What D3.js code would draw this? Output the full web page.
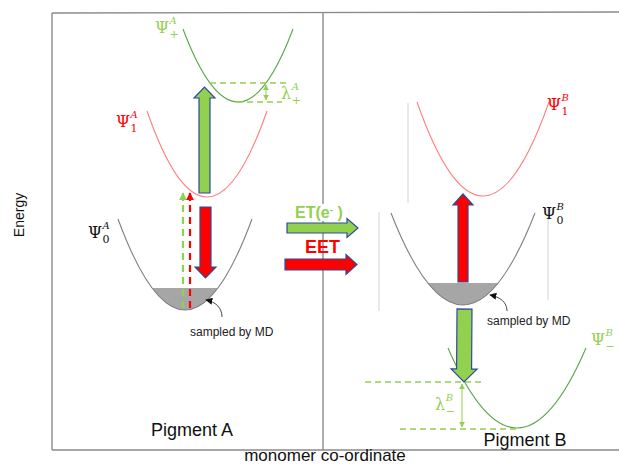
<!DOCTYPE html>
<html>
<head>
<meta charset="utf-8">
<script src="https://cdn.jsdelivr.net/npm/d3@7"></script>
<style>
  html, body { margin: 0; padding: 0; background: #fff; }
  svg { display: block; }
</style>
</head>
<body>
<svg id="chart" width="619" height="465"></svg>
<script>
// ---- Potential energy surfaces (monomer coordinate x, energy e) ----
const curveNames   = ["PsiPlusA", "Psi1A", "Psi0A", "Psi1B", "Psi0B", "PsiMinusB"];
const curveCentre  = [186, 155, 133, 431, 411, 465];   // x of the minimum
const curveMinE    = [348, 253, 140, 254, 145, 22];    // energy at the minimum
const curveHalfW   = [55, 60, 67, 66, 72, 69];         // half width at the top of the drawn arm
const curveTopE    = [421, 339, 231, 348, 237, 102];   // energy at the end of each arm
const curveColour  = ["#5aa54a", "#ff7f7f", "#808080", "#ff7f7f", "#808080", "#5aa54a"];

// thermally populated region sampled by MD (filled below this energy)
const sampledCurve = ["Psi0A", "Psi0B"];
const sampledTopE  = [162, 167];

// ---- Transitions (block arrows) ----
const arrowIds   = ["absA", "emA", "ET", "EET", "absB", "ctB"];
const arrowX1    = [152.5, 153.5, 235, 233, 411, 412.5];
const arrowE1    = [257, 243, 222, 185.5, 168, 141];
const arrowX2    = [152.5, 153.5, 306, 305, 411, 412];
const arrowE2    = [363, 172, 222, 185.5, 256, 68];
const arrowFill  = ["#92d050", "#ff0000", "#92d050", "#ff0000", "#ff0000", "#92d050"];

// ---- Vertical excitation energies (dashed arrows) ----
const dashX    = [131, 138];
const dashE1   = [142, 142];
const dashE2   = [257, 257];
const dashCol  = ["#92d050", "#ff0000"];

// ---- Reorganisation energies λ ----
const lamNames = ["lambdaPlusA", "lambdaMinusB"];
const lamUpperE  = [367, 68];
const lamUpperX1 = [158, 313];
const lamUpperX2 = [235, 433];
const lamLowerE  = [348, 21];
const lamLowerX1 = [185, 348];
const lamLowerX2 = [230, 465];
const lamArrowX  = [214, 410];

// ---- faint guide lines ----
const guideX  = [356, 327, 496];
const guideE1 = [347, 238, 240];
const guideE2 = [247, 139, 150];

const svg = d3.select("#chart");
const W = 619, H = 465;
const x = d3.scaleLinear().domain([0, 567]).range([52, 619]);
const y = d3.scaleLinear().domain([0, 438]).range([450, 12]);

svg.append("rect").attr("width", W).attr("height", H).attr("fill", "#fff");

const defs = svg.append("defs");
function headMarker(id, col, size) {
  defs.append("marker")
    .attr("id", id).attr("viewBox", "0 0 10 10")
    .attr("refX", 9).attr("refY", 5)
    .attr("markerWidth", size).attr("markerHeight", size)
    .attr("markerUnits", "userSpaceOnUse")
    .attr("orient", "auto-start-reverse")
    .append("path").attr("d", "M0,0 L10,5 L0,10 Z").attr("fill", col);
}
headMarker("hGreen", "#92d050", 8);
headMarker("hRed", "#ff0000", 8);
headMarker("hLam", "#92d050", 6);
headMarker("hBlack", "#111", 7);

// ---- frame ----
const frame = svg.append("g").attr("stroke", "#8a8a8a").attr("stroke-width", 1.4).attr("fill", "none");
frame.append("line").attr("x1", x(0)).attr("y1", y(437)).attr("x2", x(0)).attr("y2", y(0));
frame.append("line").attr("x1", x(0)).attr("y1", y(437)).attr("x2", x(567)).attr("y2", y(438));
frame.append("line").attr("x1", x(0)).attr("y1", y(0)).attr("x2", x(567)).attr("y2", y(0));
frame.append("line").attr("x1", x(271)).attr("y1", y(438)).attr("x2", x(271)).attr("y2", y(0));

// faint guides
guideX.forEach((gx, i) => {
  svg.append("line")
    .attr("x1", x(gx)).attr("x2", x(gx))
    .attr("y1", y(guideE1[i])).attr("y2", y(guideE2[i]))
    .attr("stroke", "#d4d4d4").attr("stroke-width", 1);
});

// ---- parabolic surfaces drawn as quadratic Béziers ----
function parabolaPath(i) {
  const p = d3.path();
  const xl = x(curveCentre[i] - curveHalfW[i]), xr = x(curveCentre[i] + curveHalfW[i]);
  const yt = y(curveTopE[i]), ym = y(curveMinE[i]);
  p.moveTo(xl, yt);
  p.quadraticCurveTo(x(curveCentre[i]), 2 * ym - yt, xr, yt);
  return p;
}

sampledCurve.forEach((name, k) => {
  const i = curveNames.indexOf(name);
  const cid = "clip" + name;
  defs.append("clipPath").attr("id", cid)
    .append("rect")
    .attr("x", 0).attr("width", W)
    .attr("y", y(sampledTopE[k])).attr("height", H);
  const p = parabolaPath(i); p.closePath();
  svg.append("path").attr("d", p.toString())
    .attr("fill", "#a6a6a6").attr("clip-path", `url(#${cid})`);
});

curveNames.forEach((name, i) => {
  svg.append("path").attr("d", parabolaPath(i).toString())
    .attr("fill", "none").attr("stroke", curveColour[i]).attr("stroke-width", 1.1);
});

// ---- λ reorganisation markers ----
lamNames.forEach((n, i) => {
  const g = svg.append("g").attr("stroke", "#92d050").attr("stroke-width", 1.5);
  g.append("line").attr("x1", x(lamUpperX1[i])).attr("x2", x(lamUpperX2[i]))
    .attr("y1", y(lamUpperE[i])).attr("y2", y(lamUpperE[i])).attr("stroke-dasharray", "6,4");
  g.append("line").attr("x1", x(lamLowerX1[i])).attr("x2", x(lamLowerX2[i]))
    .attr("y1", y(lamLowerE[i])).attr("y2", y(lamLowerE[i])).attr("stroke-dasharray", "6,4");
  g.append("line").attr("x1", x(lamArrowX[i])).attr("x2", x(lamArrowX[i]))
    .attr("y1", y(lamUpperE[i]) + 2).attr("y2", y(lamLowerE[i]) - 2)
    .attr("stroke-width", 1)
    .attr("marker-start", "url(#hLam)").attr("marker-end", "url(#hLam)");
});

// ---- dashed vertical excitations ----
dashX.forEach((dx, i) => {
  svg.append("line")
    .attr("x1", x(dx)).attr("x2", x(dx))
    .attr("y1", y(dashE1[i])).attr("y2", y(dashE2[i]) + 6)
    .attr("stroke", dashCol[i]).attr("stroke-width", 2.2)
    .attr("stroke-dasharray", "7,5");
  svg.append("line")
    .attr("x1", x(dx)).attr("x2", x(dx))
    .attr("y1", y(dashE2[i]) + 8).attr("y2", y(dashE2[i]))
    .attr("stroke", dashCol[i]).attr("stroke-width", 2.2)
    .attr("marker-end", `url(#${i === 0 ? "hGreen" : "hRed"})`);
});

// ---- block arrows ----
const arrowShape = { absA: [11, 21, 11], emA: [11, 21, 11], ET: [10, 19, 11], EET: [11, 20, 11], absB: [10, 20, 11], ctB: [15, 26, 13] };
function blockArrow(x1, y1, x2, y2, sw, hw, hl) {
  const dx = x2 - x1, dy = y2 - y1, L = Math.hypot(dx, dy);
  const ux = dx / L, uy = dy / L, nx = -uy, ny = ux;
  const bx = x2 - ux * hl, by = y2 - uy * hl;
  const pts = [
    [x1 + nx * sw / 2, y1 + ny * sw / 2],
    [bx + nx * sw / 2, by + ny * sw / 2],
    [bx + nx * hw / 2, by + ny * hw / 2],
    [x2, y2],
    [bx - nx * hw / 2, by - ny * hw / 2],
    [bx - nx * sw / 2, by - ny * sw / 2],
    [x1 - nx * sw / 2, y1 - ny * sw / 2]
  ];
  return "M" + pts.map(p => p.join(",")).join("L") + "Z";
}

// white backing behind the ET(e⁻) label over the divider
svg.append("rect").attr("x", 300).attr("y", 204).attr("width", 50).attr("height", 17).attr("fill", "#fff");

arrowIds.forEach((id, i) => {
  const [sw, hw, hl] = arrowShape[id];
  svg.append("path")
    .attr("d", blockArrow(x(arrowX1[i]), y(arrowE1[i]), x(arrowX2[i]), y(arrowE2[i]), sw, hw, hl))
    .attr("fill", arrowFill[i]).attr("stroke", "#2f4a9a").attr("stroke-width", 1.2)
    .attr("stroke-linejoin", "miter");
});

// ---- "sampled by MD" pointers ----
const ptrs = [
  { from: [222, 317], c1: [222, 308], c2: [216, 302], to: [206, 300] },
  { from: [507, 311], c1: [507, 302], c2: [500, 297], to: [490, 295] }
];
ptrs.forEach(p => {
  const path = d3.path();
  path.moveTo(...p.from);
  path.bezierCurveTo(...p.c1, ...p.c2, ...p.to);
  svg.append("path").attr("d", path.toString())
    .attr("fill", "none").attr("stroke", "#333").attr("stroke-width", 0.9)
    .attr("marker-end", "url(#hBlack)");
});

// ---- text ----
const sans = "'Liberation Sans', Arial, sans-serif";
const serif = "'DejaVu Serif', 'Liberation Serif', serif";

svg.append("text").attr("transform", "translate(24,215) rotate(-90)")
  .attr("text-anchor", "middle").attr("font-family", sans).attr("font-size", 14)
  .attr("fill", "#111").text("Energy");
svg.append("text").attr("x", 325).attr("y", 461).attr("text-anchor", "middle")
  .attr("font-family", sans).attr("font-size", 17).attr("fill", "#111").text("monomer co-ordinate");
svg.append("text").attr("x", 192).attr("y", 436).attr("text-anchor", "middle")
  .attr("font-family", sans).attr("font-size", 18).attr("fill", "#111").text("Pigment A");
svg.append("text").attr("x", 525).attr("y", 446).attr("text-anchor", "middle")
  .attr("font-family", sans).attr("font-size", 18).attr("fill", "#111").text("Pigment B");

svg.append("text").attr("x", 190).attr("y", 336).attr("font-family", sans).attr("font-size", 12)
  .attr("fill", "#222").text("sampled by MD");
svg.append("text").attr("x", 487).attr("y", 325).attr("font-family", sans).attr("font-size", 12)
  .attr("fill", "#222").text("sampled by MD");

const et = svg.append("text").attr("x", 295).attr("y", 218).attr("font-family", sans)
  .attr("font-size", 16).attr("font-weight", "bold").attr("fill", "#92d050");
et.append("tspan").text("ET(e");
et.append("tspan").attr("baseline-shift", "super").attr("font-size", 10).text("-");
et.append("tspan").text(" )");
svg.append("text").attr("x", 305).attr("y", 253).attr("font-family", sans)
  .attr("font-size", 18).attr("font-weight", "bold").attr("fill", "#ff0000").text("EET");

// state labels: symbol with stacked super/subscripts
const labels = [
  { sym: "Ψ", sup: "A", sub: "+", px: 155, py: 33, col: "#92d050" },
  { sym: "Ψ", sup: "A", sub: "1", px: 116, py: 127, col: "#ff0000" },
  { sym: "Ψ", sup: "A", sub: "0", px: 88, py: 238, col: "#111" },
  { sym: "Ψ", sup: "B", sub: "1", px: 547, py: 110, col: "#ff0000" },
  { sym: "Ψ", sup: "B", sub: "0", px: 542, py: 219, col: "#111" },
  { sym: "Ψ", sup: "B", sub: "−", px: 591, py: 345, col: "#92d050" },
  { sym: "λ", sup: "A", sub: "+", px: 281, py: 99, col: "#92d050" },
  { sym: "λ", sup: "B", sub: "−", px: 435, py: 410, col: "#92d050" }
];
labels.forEach(l => {
  const g = svg.append("g").attr("fill", l.col).attr("font-family", serif);
  const t = g.append("text").attr("x", l.px).attr("y", l.py).attr("font-size", 16).text(l.sym);
  const w = t.node().getComputedTextLength();
  g.append("text").attr("x", l.px + w + 0.5).attr("y", l.py - 9)
    .attr("font-size", 10).attr("font-style", "italic").text(l.sup);
  g.append("text").attr("x", l.px + w + 0.5).attr("y", l.py + 5)
    .attr("font-size", 11).text(l.sub);
});
</script>
</body>
</html>
